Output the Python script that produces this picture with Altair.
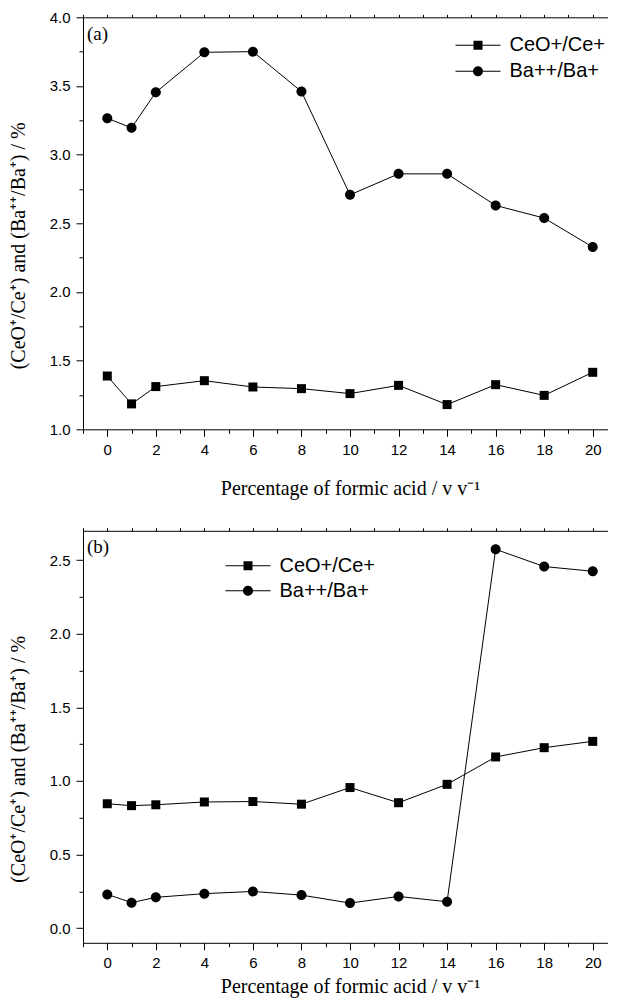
import altair as alt
import pandas as pd

# ---- data ----
x_pct = [0, 1, 2, 4, 6, 8, 10, 12, 14, 16, 18, 20]
series_names = ["CeO+/Ce+", "Ba++/Ba+"]

a_ceo = [1.388, 1.185, 1.311, 1.354, 1.308, 1.296, 1.260, 1.320, 1.180, 1.325, 1.247, 1.415]
a_ba = [3.265, 3.195, 3.454, 3.745, 3.750, 3.459, 2.707, 2.860, 2.860, 2.630, 2.538, 2.327]

b_ceo = [0.845, 0.832, 0.838, 0.857, 0.860, 0.842, 0.955, 0.852, 0.977, 1.163, 1.226, 1.269]
b_ba = [0.229, 0.173, 0.209, 0.234, 0.249, 0.224, 0.170, 0.215, 0.179, 2.574, 2.457, 2.425]

major_x = [0, 2, 4, 6, 8, 10, 12, 14, 16, 18, 20]
minor_x = [-1, 1, 3, 5, 7, 9, 11, 13, 15, 17, 19]
top_x = list(range(-1, 21))

a_major_y = [1.0, 1.5, 2.0, 2.5, 3.0, 3.5, 4.0]
a_minor_y = [1.25, 1.75, 2.25, 2.75, 3.25, 3.75]
b_major_y = [0.0, 0.5, 1.0, 1.5, 2.0, 2.5]
b_minor_y = [0.25, 0.75, 1.25, 1.75, 2.25]

X_TITLE = "Percentage of formic acid / v v\u207b\u00b9"
Y_TITLE = "(CeO\u207a/Ce\u207a) and (Ba\u207a\u207a/Ba\u207a) / %"

SERIF = "Liberation Serif, Times New Roman, serif"
SANS = "Liberation Sans, Arial, sans-serif"

# data markers: filled square / circle
SQUARE = "M-0.9,-0.9H0.9V0.9H-0.9Z"
CIRCLE = "M-1,0A1,1,0,1,1,1,0A1,1,0,1,1,-1,0Z"
# legend markers: the same with a thin line through them
SQUARE_LEG = "M-4.5,-0.1H4.5V0.1H-4.5Z M-0.9,-0.9H0.9V0.9H-0.9Z"
CIRCLE_LEG = "M-4.5,-0.1H4.5V0.1H-4.5Z M-1,0A1,1,0,1,1,1,0A1,1,0,1,1,-1,0Z"

W, H = 534, 412


def panel(tag, ceo, ba, ydom, ymaj, ymin, legx, legy, rowpad, xtitle_pad):
    n = len(x_pct)
    df = pd.DataFrame({
        "x": x_pct + x_pct,
        "v": ceo + ba,
        "s": [series_names[0]] * n + [series_names[1]] * n,
    })
    xs = alt.Scale(domain=[-1, 21], nice=False, zero=False)
    ys = alt.Scale(domain=ydom, nice=False, zero=False)
    base = alt.Chart(df)

    line = base.mark_line(color="black", strokeWidth=1).encode(
        x=alt.X("x:Q", scale=xs,
                axis=alt.Axis(orient="bottom", values=major_x, format="d", tickSize=7,
                              labelPadding=6, title=X_TITLE, titlePadding=xtitle_pad)),
        y=alt.Y("v:Q", scale=ys,
                axis=alt.Axis(orient="left", values=ymaj, format=".1f", tickSize=7,
                              labelPadding=6, title=Y_TITLE, titlePadding=20,
                              titleY=H / 2 + 22, minExtent=35, maxExtent=35)),
        detail="s:N",
    )

    pts = base.mark_point(filled=True, opacity=1, size=100, color="black").encode(
        x=alt.X("x:Q", scale=xs,
                axis=alt.Axis(orient="bottom", values=minor_x, tickSize=4, labels=False,
                              domain=False, title=None, maxExtent=4)),
        y=alt.Y("v:Q", scale=ys,
                axis=alt.Axis(orient="left", values=ymin, tickSize=4, labels=False,
                              domain=False, title=None, maxExtent=4)),
        shape=alt.Shape("s:N", scale=alt.Scale(domain=series_names, range=[SQUARE, CIRCLE]),
                        legend=None),
    )

    leg = base.mark_point(filled=True, opacity=1, size=100, color="black").encode(
        x=alt.X("x:Q", scale=xs, axis=None),
        y=alt.Y("v:Q", scale=ys, axis=None),
        shape=alt.Shape(
            "s:N",
            scale=alt.Scale(domain=series_names, range=[SQUARE_LEG, CIRCLE_LEG]),
            legend=alt.Legend(
                title=None, orient="none", legendX=legx, legendY=legy,
                labelFont=SANS, labelFontSize=20, labelColor="black",
                labelOffset=21.5, rowPadding=rowpad, symbolSize=100,
            ),
        ),
    ).transform_filter("false")

    frame = base.mark_point(opacity=0).encode(
        x=alt.X("x:Q", scale=xs,
                axis=alt.Axis(orient="top", values=top_x, tickSize=3, labels=False,
                              title=None, maxExtent=3)),
        y=alt.Y("v:Q", scale=ys, axis=None),
    )

    lab = alt.Chart(pd.DataFrame({"t": [tag]})).mark_text(
        font=SERIF, fontSize=19, align="left", baseline="middle", color="black"
    ).encode(text="t:N", x=alt.value(4), y=alt.value(16.5))

    return alt.layer(line, pts, leg, frame, lab).resolve_axis(
        x="independent", y="independent"
    ).resolve_scale(shape="independent").properties(width=W, height=H)


top = panel("(a)", a_ceo, a_ba, [1.0, 4.0], a_major_y, a_minor_y, 385, 18, 6, 21.5)
bottom = panel("(b)", b_ceo, b_ba, [-0.1, 2.7], b_major_y, b_minor_y, 155, 25, 5, 6)

chart = alt.vconcat(top, bottom, spacing=27.5).resolve_scale(
    shape="independent"
).properties(
    padding={"left": 0, "top": 2.3, "right": -9, "bottom": 4}
).configure_view(stroke=None).configure_axis(
    labelFont=SANS, labelFontSize=15, labelColor="black",
    titleFont=SERIF, titleFontSize=20, titleFontWeight="normal",
    titleColor="black", domainColor="black", tickColor="black",
    domainWidth=1, tickWidth=1, grid=False, labelFlush=False, labelOverlap=False,
)

chart.save("out.html", embed_options={"renderer": "svg", "actions": False})
